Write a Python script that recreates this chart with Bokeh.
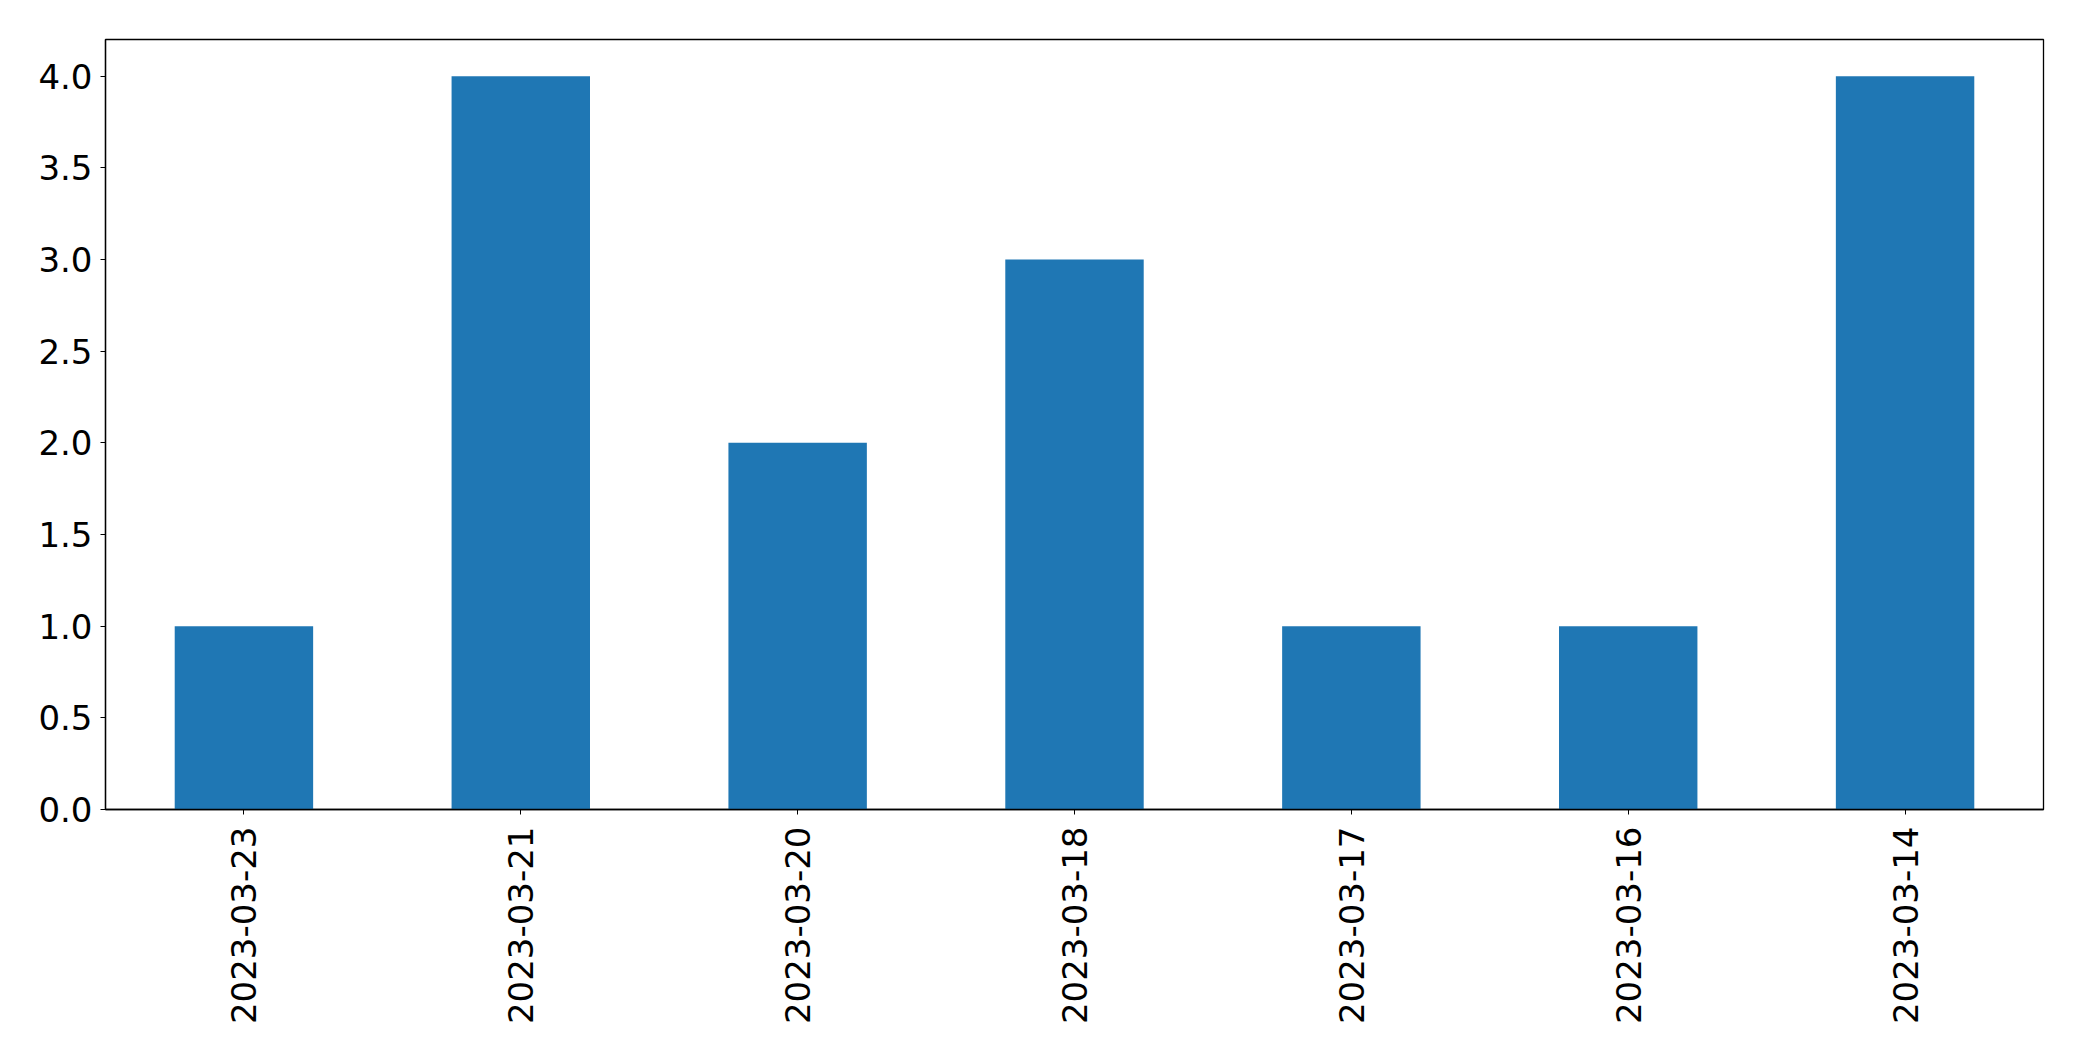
import math
from bokeh.plotting import figure
from bokeh.models import FactorRange, Range1d, FixedTicker, NumeralTickFormatter
from bokeh.embed import file_html
from bokeh.resources import INLINE

dates = ["2023-03-23", "2023-03-21", "2023-03-20", "2023-03-18",
         "2023-03-17", "2023-03-16", "2023-03-14"]
counts = [1, 4, 2, 3, 1, 1, 4]
y_ticks = [0.0, 0.5, 1.0, 1.5, 2.0, 2.5, 3.0, 3.5, 4.0]

p = figure(
    x_range=FactorRange(factors=dates, range_padding=0),
    y_range=Range1d(0, 4.2),
    width=2074, height=1045,
    output_backend="svg", toolbar_location=None,
    min_border_left=105, min_border_right=31, min_border_top=39, min_border_bottom=236,
)

p.vbar(x=dates, top=counts, width=0.5, fill_color="#1f77b4", line_color=None)

p.xgrid.grid_line_color = None
p.ygrid.grid_line_color = None
p.outline_line_color = "black"
p.outline_line_width = 1.3
p.background_fill_color = "white"
p.border_fill_color = "white"

p.yaxis.ticker = FixedTicker(ticks=y_ticks)
p.yaxis.formatter = NumeralTickFormatter(format="0.0")

for ax in (p.xaxis[0], p.yaxis[0]):
    ax.axis_line_color = "black"
    ax.axis_line_width = 1.3
    ax.major_tick_line_color = "black"
    ax.major_tick_out = 5
    ax.major_tick_in = 0
    ax.minor_tick_line_color = None
    ax.major_label_text_font = "DejaVu Sans"
    ax.major_label_text_font_size = "34px"
    ax.major_label_text_color = "black"

p.yaxis.major_label_standoff = 8
p.xaxis.major_label_standoff = 12
p.xaxis.major_label_orientation = math.pi / 2

open("out.html", "w").write(file_html(p, INLINE))
